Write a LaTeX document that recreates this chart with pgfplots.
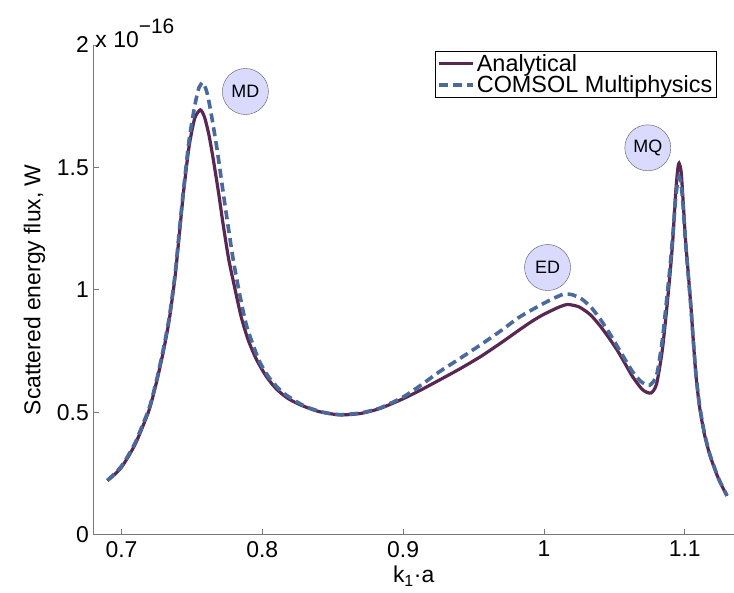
\documentclass[border=0pt]{standalone}
\usepackage{pgfplots}
\pgfplotsset{compat=1.18}
\usepackage{fontspec}
\setmainfont{Liberation Sans}
\definecolor{anacol}{RGB}{88,40,82}
\definecolor{comcol}{RGB}{74,106,158}
\definecolor{circfill}{RGB}{218,218,255}
\definecolor{axgray}{RGB}{120,120,120}
\pgfplotstableread{
x y
0.690 0.220
0.695 0.245
0.700 0.275
0.705 0.320
0.710 0.372
0.715 0.440
0.720 0.515
0.725 0.625
0.730 0.755
0.734 0.880
0.738 1.050
0.741 1.220
0.744 1.395
0.748 1.585
0.752 1.700
0.756 1.735
0.759 1.705
0.762 1.636
0.765 1.540
0.769 1.395
0.772 1.275
0.776 1.130
0.780 1.020
0.785 0.890
0.790 0.795
0.796 0.714
0.803 0.645
0.810 0.595
0.818 0.557
0.827 0.530
0.840 0.503
0.855 0.489
0.870 0.495
0.884 0.516
0.900 0.555
0.913 0.592
0.926 0.632
0.940 0.676
0.955 0.727
0.970 0.785
0.983 0.838
0.992 0.873
1.000 0.900
1.011 0.930
1.017 0.940
1.025 0.930
1.033 0.898
1.040 0.852
1.046 0.805
1.052 0.754
1.058 0.695
1.063 0.645
1.070 0.592
1.076 0.578
1.080 0.615
1.084 0.750
1.087 0.910
1.0895 1.060
1.0915 1.200
1.0935 1.390
1.0950 1.490
1.0960 1.517
1.0975 1.480
1.0990 1.350
1.1005 1.210
1.1025 1.068
1.1045 0.925
1.106 0.800
1.108 0.650
1.1105 0.523
1.114 0.410
1.118 0.322
1.124 0.228
1.130 0.158
}\anadata
\pgfplotstableread{
x y
0.690 0.222
0.695 0.248
0.700 0.280
0.705 0.325
0.710 0.378
0.715 0.448
0.720 0.522
0.725 0.632
0.730 0.765
0.734 0.890
0.738 1.060
0.741 1.235
0.744 1.405
0.748 1.610
0.752 1.750
0.755 1.825
0.758 1.846
0.761 1.800
0.764 1.710
0.768 1.570
0.7723 1.395
0.776 1.250
0.7794 1.122
0.784 0.980
0.789 0.850
0.7975 0.714
0.805 0.640
0.815 0.578
0.830 0.525
0.843 0.500
0.855 0.490
0.870 0.497
0.884 0.518
0.900 0.562
0.913 0.612
0.926 0.666
0.940 0.718
0.955 0.775
0.970 0.835
0.983 0.890
1.000 0.945
1.008 0.968
1.014 0.982
1.020 0.980
1.027 0.962
1.034 0.925
1.040 0.880
1.046 0.828
1.052 0.770
1.058 0.712
1.063 0.665
1.069 0.625
1.075 0.610
1.080 0.650
1.084 0.790
1.087 0.950
1.0895 1.090
1.0915 1.220
1.0935 1.370
1.0950 1.440
1.0960 1.462
1.0975 1.430
1.0990 1.330
1.1005 1.200
1.1025 1.060
1.1045 0.920
1.106 0.800
1.108 0.655
1.1105 0.530
1.114 0.415
1.118 0.325
1.124 0.230
1.130 0.160
}\comdata
\begin{document}
\begin{tikzpicture}
\begin{axis}[
  scale only axis,
  width=640.7bp, height=489.6bp,
  xmin=0.68, xmax=1.135, ymin=0, ymax=2,
  axis lines*=left,
  axis line style={axgray, line width=0.8bp},
  tick style={axgray, line width=0.8bp},
  tick align=inside,
  major tick length=6bp,
  xtick={0.7,0.8,0.9,1,1.1},
  xticklabels={0.7,0.8,0.9,1,1.1},
  ytick={0,0.5,1,1.5,2},
  yticklabels={0,0.5,1,1.5,2},
  tick label style={font=\fontsize{23}{27}\selectfont, black},
  xticklabel style={yshift=-3bp},
  yticklabel style={xshift=-1bp},
  label style={font=\fontsize{23}{27}\selectfont},
  xlabel={k\textsubscript{1}·a},
  ylabel={Scattered energy flux, W},
  xlabel style={yshift=-2bp},
  ylabel style={yshift=5bp},
  legend style={
    at={(rel axis cs:0.5333,0.988)}, anchor=north west,
    font=\fontsize{23.5}{27}\selectfont,
    draw=black, line width=0.6bp,
    inner xsep=2bp, inner ysep=1bp,
    row sep=-1bp,
    cells={anchor=west},
  },
  legend image code/.code={\draw[#1] (0bp,0bp) -- (34bp,0bp);},
  clip=false,
]
\addplot[anacol, line width=3.2bp, smooth, tension=0.4] table[x=x,y=y] {\anadata};
\addlegendentry{Analytical}
\addplot[comcol, line width=3.6bp, dash pattern=on 9bp off 5bp, smooth, tension=0.4] table[x=x,y=y] {\comdata};
\addlegendentry{COMSOL Multiphysics\hspace{20bp}}
\node[circle, draw=gray!70!black, fill=circfill, minimum size=46bp, inner sep=0pt, font=\fontsize{18}{20}\selectfont] at (axis cs:0.788,1.81) {MD};
\node[circle, draw=gray!70!black, fill=circfill, minimum size=46bp, inner sep=0pt, font=\fontsize{18}{20}\selectfont] at (axis cs:1.0026,1.091) {ED};
\node[circle, draw=gray!70!black, fill=circfill, minimum size=46bp, inner sep=0pt, font=\fontsize{18}{20}\selectfont] at (axis cs:1.0738,1.58) {MQ};
\node[anchor=base west, inner sep=0pt, font=\fontsize{23}{27}\selectfont] at ([xshift=2bp,yshift=-3bp]rel axis cs:0,1) {x 10\raisebox{14bp}{\fontsize{21}{24}\selectfont −16}};
\coordinate (bl) at (rel axis cs:0,0);
\coordinate (tr) at (rel axis cs:1,1);
\end{axis}
\pgfresetboundingbox
\path[use as bounding box] ([xshift=-93.3bp,yshift=-58.3bp]bl) rectangle ([yshift=45bp]tr);
\end{tikzpicture}
\end{document}
